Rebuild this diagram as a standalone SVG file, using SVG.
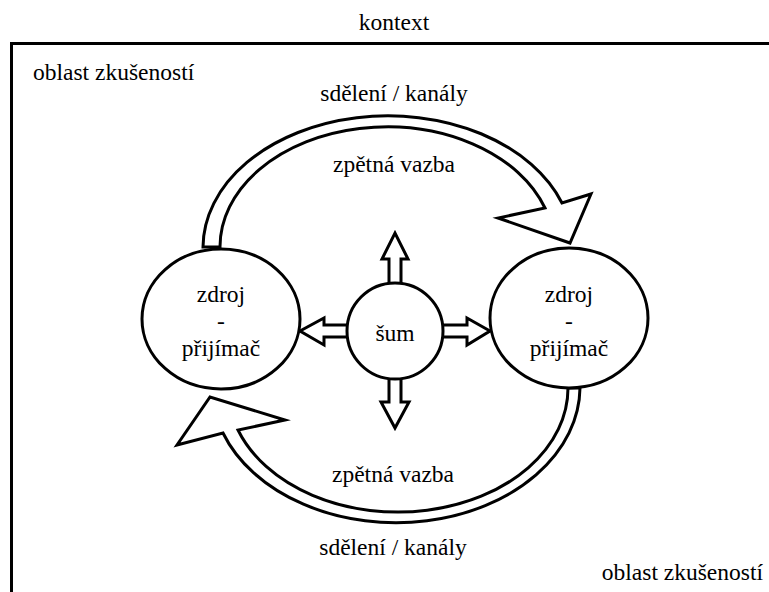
<svg xmlns="http://www.w3.org/2000/svg" width="769" height="592" viewBox="0 0 769 592">
<style>
  .ln { fill: #fff; stroke: #000; stroke-width: 3; stroke-linejoin: miter; }
  .frame { fill: none; stroke: #000; stroke-width: 3; }
  text { font-family: 'Liberation Serif', 'Times New Roman', Times, Tinos, 'Noto Serif', 'DejaVu Serif', 'Nimbus Roman', FreeSerif, serif; font-size: 23.5px; fill: #000; }
  .m { text-anchor: middle; }
  .e { text-anchor: end; }
</style>
<rect width="769" height="592" fill="#fff"/>
<g id="context">
  <text class="m" x="394" y="30">kontext</text>
  <path class="frame" d="M11.5,600 V43.5 H780"/>
  <text x="33" y="80">oblast zkušeností</text>
  <text class="e" x="763" y="580">oblast zkušeností</text>
</g>
<g id="connectors">
  <path id="top-band" class="ln" d="M203,247 A185,132 0 0 1 562,203 L591,194 L570,243 L498,218 L545,208 A167,120 0 0 0 220,247 Z"/>
  <path id="bottom-band" class="ln" d="M580,388 A184,136 0 0 1 223,433 L177,445 L210,397 L285,420 L238,430 A170,124 0 0 0 568,388 Z"/>
  <polygon id="noise-up" class="ln" points="389,300 389,259 382,259 395,233 408,259 401,259 401,300"/>
  <polygon id="noise-down" class="ln" points="389,360 389,402 381,402 395,428 409,402 401,402 401,360"/>
  <polygon id="noise-left" class="ln" points="370,325 324,325 324,318 300,331 324,345 324,337 370,337"/>
  <polygon id="noise-right" class="ln" points="420,325 467,325 467,318 490,331 467,345 467,337 420,337"/>
</g>
<g id="labels">
  <text class="m" x="394" y="101">sdělení / kanály</text>
  <text class="m" x="394" y="172">zpětná vazba</text>
  <text class="m" x="393" y="482">zpětná vazba</text>
  <text class="m" x="393" y="555">sdělení / kanály</text>
</g>
<g id="node-left">
  <ellipse class="ln" cx="221" cy="319" rx="79" ry="70"/>
  <text class="m" x="221" y="302">zdroj</text>
  <text class="m" x="221" y="329">-</text>
  <text class="m" x="221" y="356">přijímač</text>
</g>
<g id="node-right">
  <ellipse class="ln" cx="569" cy="318" rx="79" ry="70"/>
  <text class="m" x="569" y="302">zdroj</text>
  <text class="m" x="569" y="329">-</text>
  <text class="m" x="569" y="356">přijímač</text>
</g>
<g id="node-noise">
  <circle class="ln" cx="395" cy="331" r="48"/>
  <text class="m" x="395" y="341">šum</text>
</g>
</svg>
